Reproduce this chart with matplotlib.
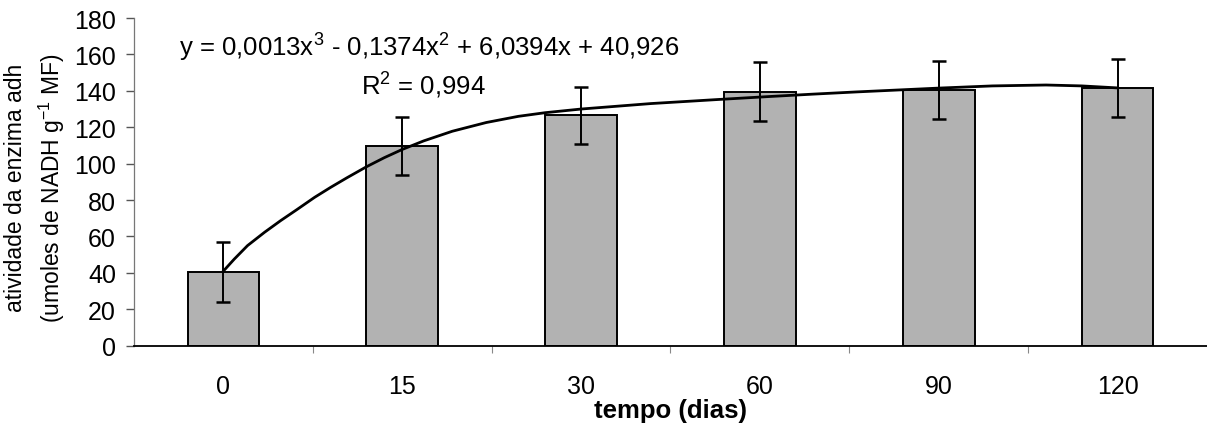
import numpy as np
import matplotlib
matplotlib.use("Agg")
import matplotlib.pyplot as plt

plt.rcParams['font.family'] = ['Liberation Sans', 'DejaVu Sans']

# data
dias = ['0', '15', '30', '60', '90', '120']
atividade = [40.5, 109.5, 126.5, 139.5, 140.5, 141.5]
erro = [16.3, 16.0, 15.8, 16.2, 16.0, 16.0]

# fitted trend line (x in category positions)
curva_pos = [0, 0.06, 0.135, 0.23, 0.32, 0.41, 0.51, 0.6, 0.69, 0.8, 0.9, 1.0,
             1.12, 1.28, 1.47, 1.65, 1.8, 2.0, 2.39, 2.76, 3.04, 3.3, 3.54,
             4.0, 4.3, 4.6, 4.8, 5.0]
curva_val = [41, 47.5, 55, 62.3, 68.7, 74.7, 81.5, 87, 92.2, 98.3, 103.3, 107.8,
             112.5, 117.8, 122.6, 126, 128, 130, 133, 135.2, 136.8, 138.2, 139.4,
             141.5, 142.7, 143.2, 142.7, 141.6]

fig = plt.figure(figsize=(12.07, 4.27), dpi=100)
ax = fig.add_axes([0.111, 0.188, 0.889, 0.7675])

x = np.arange(len(dias))
ax.bar(x, atividade, width=0.4, color='#b2b2b2', edgecolor='black', linewidth=1.4, zorder=2)
ax.errorbar(x, atividade, yerr=erro, fmt='none', ecolor='black', elinewidth=1.4,
            capsize=5, capthick=1.8, zorder=3)
ax.plot(curva_pos, curva_val, color='black', lw=2.0, zorder=4)

ax.set_xlim(-0.5, 5.5)
ax.set_ylim(0, 180)
ax.set_yticks(range(0, 181, 20))

# category labels without ticks, boundary ticks below
ax.set_xticks(x)
ax.set_xticklabels(dias)
ax.tick_params(axis='x', length=0, pad=20, labelsize=18)
ax.set_xticks(np.arange(0.5, 5.5, 1), minor=True)
ax.tick_params(axis='x', which='minor', length=5, width=0.8, color='#888888')
ax.tick_params(axis='y', length=6, width=1, color='#555555', labelsize=18, pad=7)

for s in ['top', 'right']:
    ax.spines[s].set_visible(False)
ax.spines['left'].set_color('#777777')
ax.spines['left'].set_linewidth(0.9)
ax.spines['bottom'].set_linewidth(1.3)

ax.set_xlabel('tempo (dias)', fontsize=18.5, fontweight='bold', va='top')
ax.xaxis.set_label_coords(0.5, -0.16)
ax.set_ylabel('atividade da enzima adh\n(umoles de NADH g$^{\\mathregular{-1}}$ MF)',
              fontsize=16.5, linespacing=1.45)
ax.yaxis.set_label_coords(-0.062, 0.485)

ax.text(0.275, 0.915, 'y = 0,0013x$^{\\mathregular{3}}$ - 0,1374x$^{\\mathregular{2}}$ + 6,0394x + 40,926',
        transform=ax.transAxes, ha='center', va='center', fontsize=18.5)
ax.text(0.27, 0.80, 'R$^{\\mathregular{2}}$ = 0,994',
        transform=ax.transAxes, ha='center', va='center', fontsize=18.5)

fig.savefig('out.png', dpi=100)
